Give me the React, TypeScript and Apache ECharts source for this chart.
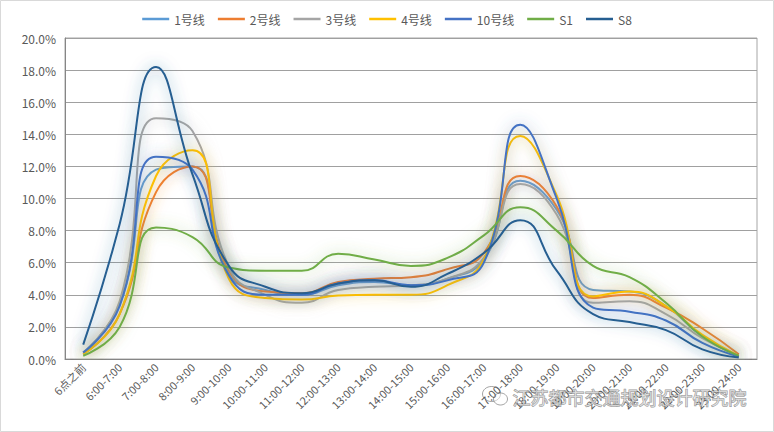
import React, { useEffect, useRef } from "react";
import * as echarts from "echarts";

const categories = [
  "6点之前", "6:00-7:00", "7:00-8:00", "8:00-9:00", "9:00-10:00", "10:00-11:00",
  "11:00-12:00", "12:00-13:00", "13:00-14:00", "14:00-15:00", "15:00-16:00",
  "16:00-17:00", "17:00-18:00", "18:00-19:00", "19:00-20:00", "20:00-21:00",
  "21:00-22:00", "22:00-23:00", "23:00-24:00",
];

const seriesNames = ["1号线", "2号线", "3号线", "4号线", "10号线", "S1", "S8"];
const seriesColors = ["#5B9BD5", "#ED7D31", "#A5A5A5", "#FFC000", "#4472C4", "#70AD47", "#255E91"];

const line1 = [0.4, 3.4, 11.8, 12.0, 5.3, 4.3, 4.0, 4.6, 4.8, 4.6, 5.0, 6.2, 11.1, 9.3, 4.3, 4.2, 3.3, 1.4, 0.2];
const line2 = [0.3, 2.8, 10.4, 12.0, 5.5, 4.2, 4.1, 4.8, 5.0, 5.1, 5.6, 6.6, 11.4, 9.5, 3.8, 4.0, 3.2, 1.9, 0.3];
const line3 = [0.4, 3.6, 15.0, 14.2, 5.7, 4.0, 3.5, 4.3, 4.5, 4.6, 5.0, 6.3, 10.9, 9.0, 3.5, 3.6, 2.8, 1.3, 0.2];
const line4 = [0.3, 2.8, 11.4, 13.0, 5.0, 3.8, 3.7, 3.95, 4.0, 4.0, 4.6, 6.2, 13.9, 10.2, 3.9, 4.2, 3.3, 1.5, 0.2];
const line10 = [0.4, 3.3, 12.6, 11.8, 5.2, 4.0, 4.0, 4.7, 4.9, 4.6, 4.9, 6.0, 14.6, 10.0, 3.2, 2.95, 2.4, 1.0, 0.15];
const lineS1 = [0.2, 2.0, 8.2, 7.6, 5.7, 5.5, 5.5, 6.55, 6.2, 5.8, 6.3, 7.7, 9.45, 8.0, 5.8, 5.1, 3.5, 1.4, 0.2];
const lineS8 = [0.9, 8.4, 18.2, 11.5, 5.8, 4.5, 4.1, 4.7, 4.9, 4.5, 5.3, 6.6, 8.65, 5.5, 2.8, 2.3, 1.8, 0.6, 0.1];

const allData = [line1, line2, line3, line4, line10, lineS1, lineS8];

const FONT = "'Noto Sans CJK SC', 'Noto Sans', sans-serif";

function hexA(hex: string, a: number) {
  const r = parseInt(hex.slice(1, 3), 16);
  const g = parseInt(hex.slice(3, 5), 16);
  const b = parseInt(hex.slice(5, 7), 16);
  return `rgba(${r},${g},${b},${a})`;
}

export default function App() {
  const ref = useRef<HTMLDivElement>(null);
  useEffect(() => {
    if (!ref.current) return;
    const chart = echarts.init(ref.current, undefined, { renderer: "svg" });
    chart.setOption({
      animation: false,
      backgroundColor: "#ffffff",
      color: seriesColors,
      legend: {
        top: 8,
        left: "center",
        icon: "rect",
        itemWidth: 27,
        itemHeight: 2.5,
        itemGap: 13,
        textStyle: { color: "#595959", fontSize: 12, fontFamily: FONT },
        data: seriesNames,
      },
      grid: {
        left: 65,
        right: 17,
        top: 38,
        bottom: 73,
        show: true,
        borderColor: "#A6A6A6",
        borderWidth: 1,
        backgroundColor: "transparent",
      },
      xAxis: {
        type: "category",
        data: categories,
        boundaryGap: true,
        axisLine: { lineStyle: { color: "#868686" } },
        axisTick: { show: false },
        axisLabel: {
          rotate: 45,
          interval: 0,
          color: "#595959",
          fontSize: 11,
          fontFamily: FONT,
          margin: 6,
        },
      },
      yAxis: {
        type: "value",
        min: 0,
        max: 20,
        interval: 2,
        axisLine: { show: true, lineStyle: { color: "#868686" } },
        axisTick: { show: false },
        splitLine: { lineStyle: { color: "#A0A0A0", width: 1 } },
        axisLabel: {
          color: "#595959",
          fontSize: 12,
          fontFamily: FONT,
          margin: 9,
          formatter: (v: number) => v.toFixed(1) + "%",
        },
      },
      graphic: [
        {
          type: "rect",
          shape: { x: 0.5, y: 0.5, width: 773, height: 431 },
          style: { fill: "none", stroke: "#D9D9D9", lineWidth: 1 },
          silent: true,
          z: 100,
        },
        {
          type: "group",
          left: 482,
          top: 386,
          z: 100,
          children: [
            {
              type: "ellipse",
              shape: { cx: 10, cy: 9, rx: 9, ry: 7.5 },
              style: { fill: "rgba(255,255,255,0.5)", stroke: "rgba(90,90,90,0.55)", lineWidth: 1 },
            },
            {
              type: "ellipse",
              shape: { cx: 19, cy: 14, rx: 7, ry: 6 },
              style: { fill: "rgba(255,255,255,0.5)", stroke: "rgba(90,90,90,0.55)", lineWidth: 1 },
            },
          ],
        },
        {
          type: "text",
          left: 512,
          top: 387,
          z: 100,
          style: {
            text: "江苏都市交通规划设计研究院",
            fontSize: 18,
            fontFamily: FONT,
            fill: "rgba(255,255,255,0.55)",
            stroke: "rgba(70,70,70,0.6)",
            lineWidth: 1,
          },
        },
      ],
      series: seriesNames.map((name, i) => ({
        name,
        type: "line",
        data: allData[i],
        smooth: 0.5,
        symbol: "none",
        lineStyle: {
          width: 2,
          color: seriesColors[i],
          shadowBlur: 14,
          shadowColor: hexA(seriesColors[i], 0.7),
        },
        itemStyle: { color: seriesColors[i] },
      })),
    });
    return () => chart.dispose();
  }, []);
  return (
    <div
      ref={ref}
      style={{ position: "fixed", left: 0, top: 0, width: 774, height: 432 }}
    />
  );
}
